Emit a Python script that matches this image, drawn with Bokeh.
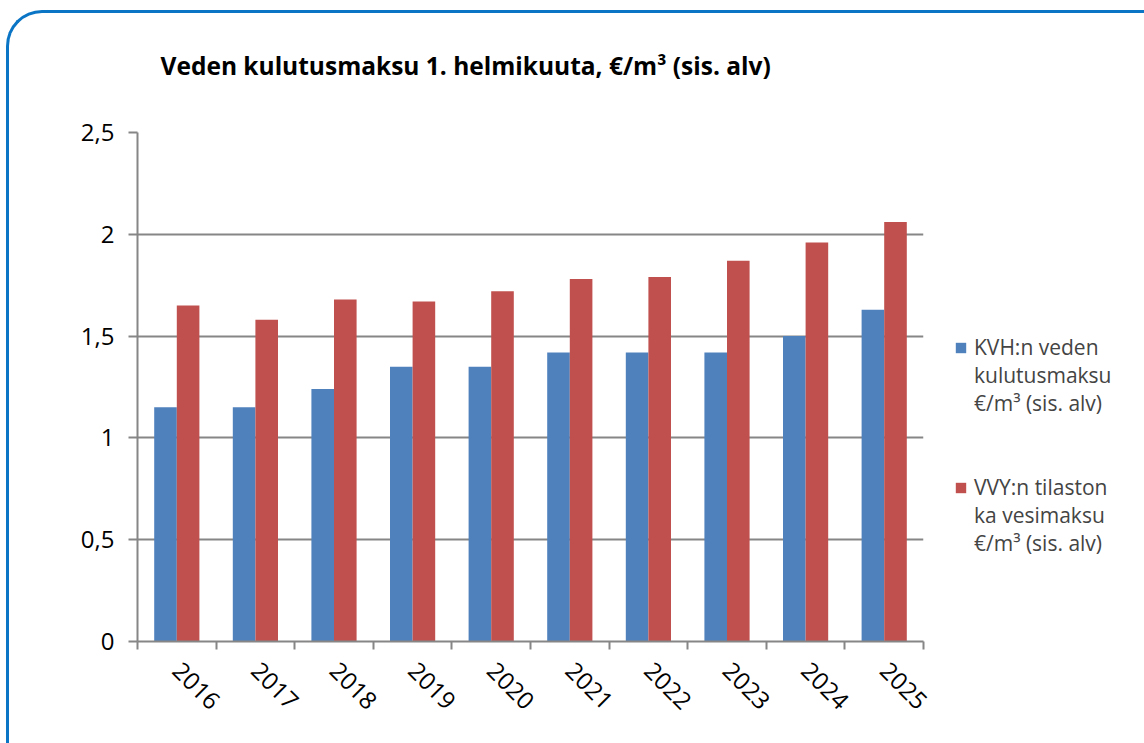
import numpy as np
from bokeh.plotting import figure
from bokeh.models import Range1d, FixedTicker, Legend, LegendItem, Title
from bokeh.embed import file_html
from bokeh.resources import INLINE

# ---- data ----
years = ["2016", "2017", "2018", "2019", "2020", "2021", "2022", "2023", "2024", "2025"]
kvh = [1.15, 1.15, 1.24, 1.35, 1.35, 1.42, 1.42, 1.42, 1.50, 1.63]
vvy = [1.65, 1.58, 1.68, 1.67, 1.72, 1.78, 1.79, 1.87, 1.96, 2.06]
y_ticks = [0, 0.5, 1, 1.5, 2, 2.5]
y_tick_labels = ["0", "0,5", "1", "1,5", "2", "2,5"]
kvh_label_lines = ["KVH:n veden", "kulutusmaksu", "€/m³ (sis. alv)"]
vvy_label_lines = ["VVY:n tilaston", "ka vesimaksu", "€/m³ (sis. alv)"]
title_text = "Veden kulutusmaksu 1. helmikuuta, €/m³ (sis. alv)"

FONT = "Open Sans"
BLUE = "#4F81BD"
RED = "#C0504D"
GRAY = "#868686"
FRAME_BLUE = "#0B75C5"

n = len(years)
centers = np.arange(n) + 0.5
bw = 0.2875

p = figure(frame_width=786, frame_height=509, output_backend="svg", toolbar_location=None,
           x_range=Range1d(0, n), y_range=Range1d(0, 2.5),
           min_border_left=128, min_border_right=221,
           min_border_top=119, min_border_bottom=102)
p.outline_line_color = None
p.background_fill_color = "white"
p.border_fill_alpha = 0
p.styles = {"margin-left": "6px", "margin-top": "10px",
            "border-top": f"3px solid {FRAME_BLUE}",
            "border-left": f"3px solid {FRAME_BLUE}",
            "border-top-left-radius": "36px"}

r1 = p.vbar(x=centers - bw / 2, top=kvh, width=bw, fill_color=BLUE, line_color=None)
r2 = p.vbar(x=centers + bw / 2, top=vvy, width=bw, fill_color=RED, line_color=None)
# invisible renderer used for the continuation lines of the legend labels
blank = p.vbar(x=[], top=[], width=bw, fill_alpha=0, line_alpha=0)

# x axis
xa = p.xaxis[0]
xa.ticker = FixedTicker(ticks=list(centers), minor_ticks=list(range(n + 1)))
xa.major_label_overrides = {float(c): y for c, y in zip(centers, years)}
xa.major_tick_out = 0
xa.major_tick_in = 0
xa.minor_tick_out = 8
xa.minor_tick_in = 0
xa.minor_tick_line_color = GRAY
xa.minor_tick_line_width = 2
xa.axis_line_color = GRAY
xa.axis_line_width = 2
xa.major_label_orientation = -np.pi / 4
xa.major_label_text_font = FONT
xa.major_label_text_font_size = "24px"
xa.major_label_text_color = "black"
xa.major_label_standoff = 17

# y axis
ya = p.yaxis[0]
ya.ticker = FixedTicker(ticks=y_ticks)
ya.major_label_overrides = {float(t): l for t, l in zip(y_ticks, y_tick_labels)}
ya.major_tick_out = 9
ya.major_tick_in = 0
ya.minor_tick_line_color = None
ya.major_tick_line_color = GRAY
ya.major_tick_line_width = 2
ya.axis_line_color = GRAY
ya.axis_line_width = 2
ya.major_label_text_font = FONT
ya.major_label_text_font_size = "24px"
ya.major_label_text_color = "black"
ya.major_label_standoff = 14

p.xgrid.visible = False
p.ygrid.ticker = FixedTicker(ticks=y_ticks)
p.ygrid.grid_line_color = GRAY
p.ygrid.grid_line_width = 2

# title: default title left empty; a thin spacer title sits between the real title and the frame
p.title.text = ""
p.title.standoff = 0
spacer = Title(text=" ", text_font_size="1px", standoff=41)
p.add_layout(spacer, "above")
main_title = Title(text=title_text, align="left", vertical_align="top", offset=23,
                   text_font=FONT, text_font_style="bold", text_font_size="24.5px",
                   text_color="black", standoff=10)
p.add_layout(main_title, "above")

# legend: one item per text line, glyph only on the first line of each series
items = [LegendItem(label=kvh_label_lines[0], renderers=[r1])]
items += [LegendItem(label=t, renderers=[blank]) for t in kvh_label_lines[1:]]
items += [LegendItem(label=" ", renderers=[blank]) for _ in range(2)]
items += [LegendItem(label=vvy_label_lines[0], renderers=[r2])]
items += [LegendItem(label=t, renderers=[blank]) for t in vvy_label_lines[1:]]

legend = Legend(items=items, location=(31, 84), glyph_width=13, glyph_height=13,
                label_standoff=7, spacing=0, padding=0, margin=0, label_height=28,
                label_text_font=FONT, label_text_font_size="21px",
                border_line_color=None, background_fill_alpha=0)
p.add_layout(legend, "right")

open("out.html", "w").write(file_html(p, INLINE))
